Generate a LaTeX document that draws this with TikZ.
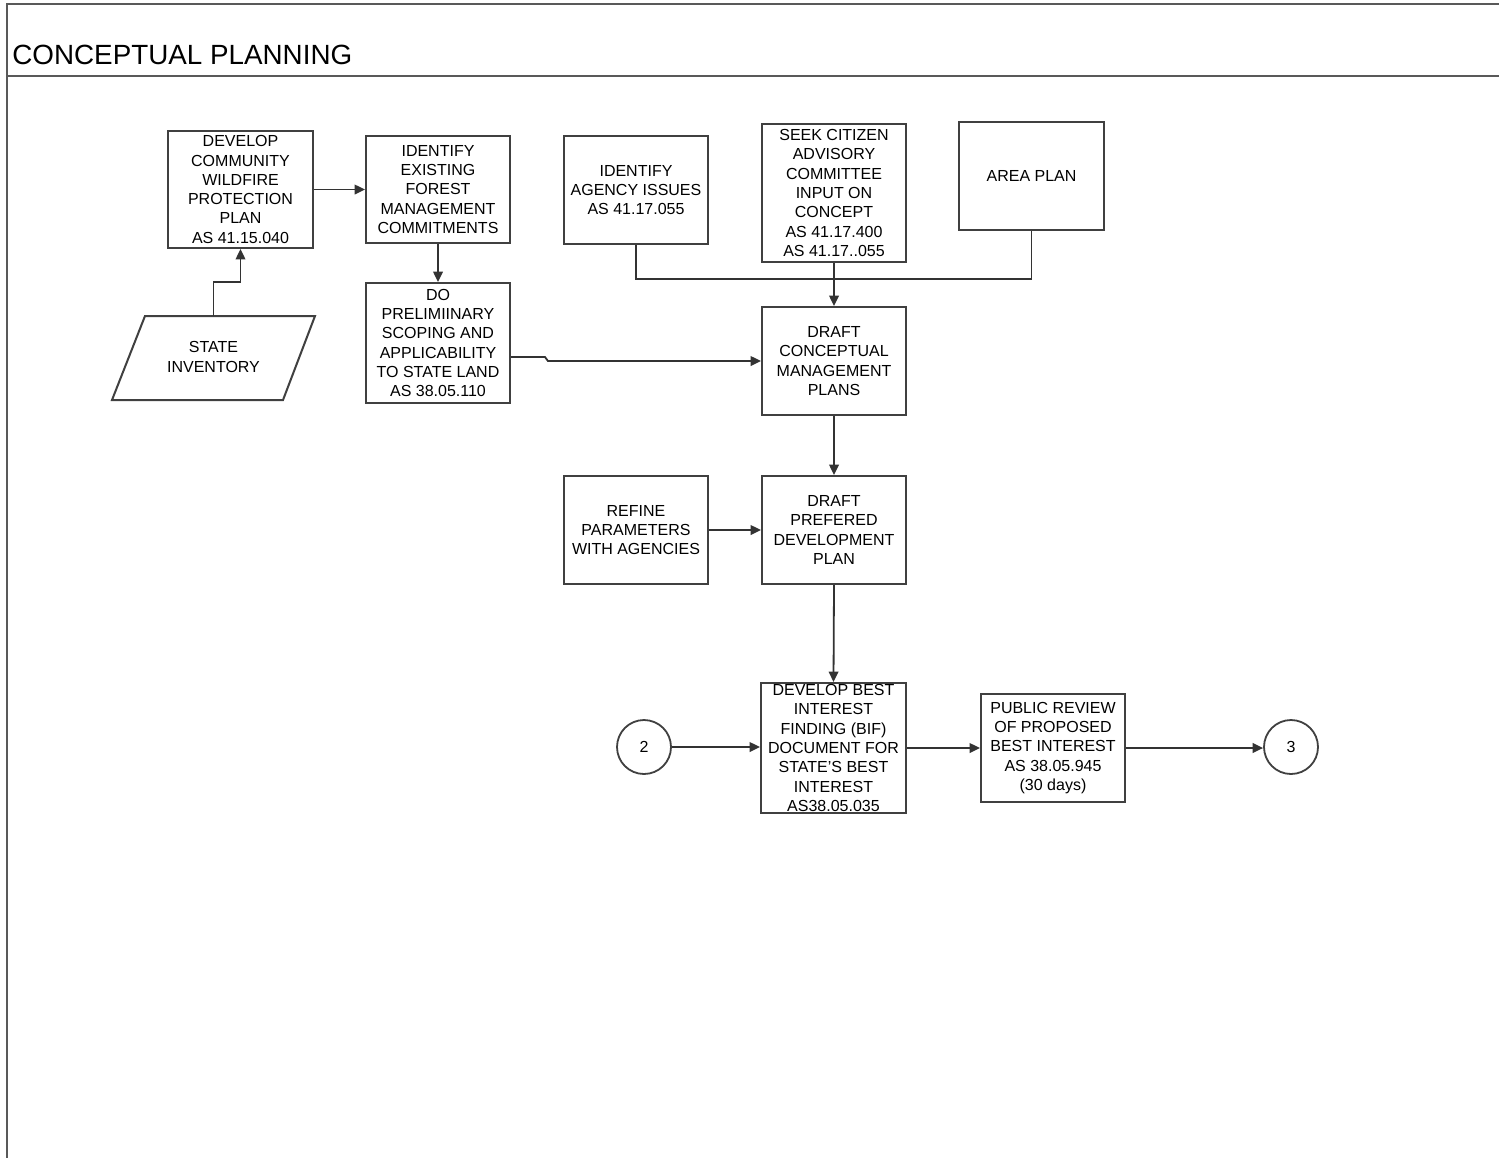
\documentclass[tikz,border=0pt]{standalone}
\usepackage{fontspec}
\setmainfont{Liberation Sans}
\usetikzlibrary{arrows.meta}
\begin{document}
\begin{tikzpicture}[x=0.5pt,y=-0.5pt,
  frameline/.style={draw=black!65, line width=1.2pt},
  box/.style={draw=black!75, line width=1pt, fill=white, minimum width=72pt,
    minimum height=54pt, inner sep=0pt, align=center,
    font=\fontsize{8}{9.65}\selectfont},
  conn/.style={draw=black!80, line width=0.9pt},
  flow/.style={conn, -{Triangle[length=5.2pt,width=4.8pt]}},
  offpage/.style={draw=black!75, line width=0.9pt, circle, minimum size=27pt,
    inner sep=0pt, font=\fontsize{8}{9.65}\selectfont}
]
\useasboundingbox (0,0) rectangle (1499,1158);
\fill[white] (0,0) rectangle (1499,1158);

% page frame and title bar
\draw[frameline] (1499,4) -- (7,4) -- (7,1158);
\draw[frameline] (7,76) -- (1499,76);
\node[anchor=base west, inner sep=0pt, font=\fontsize{13.9}{16}\selectfont] (title)
  at (12,64) {CONCEPTUAL PLANNING};

% process boxes
\node[box, minimum width=72.5pt, minimum height=58.5pt] (cwpp) at (240.5,189.5)
  {DEVELOP\\COMMUNITY\\WILDFIRE\\PROTECTION\\PLAN\\AS 41.15.040};
\node[box, minimum height=53.5pt] (forest) at (438,189.5)
  {IDENTIFY\\EXISTING\\FOREST\\MANAGEMENT\\COMMITMENTS};
\node[box, minimum height=60pt] (prelim) at (438,343)
  {DO\\PRELIMIINARY\\SCOPING AND\\APPLICABILITY\\TO STATE LAND\\AS 38.05.110};
\node[box] (agency) at (636,190)
  {IDENTIFY\\AGENCY ISSUES\\AS 41.17.055};
\node[box, minimum height=69pt] (citizen) at (834,193)
  {SEEK CITIZEN\\ADVISORY\\COMMITTEE\\INPUT ON\\CONCEPT\\AS 41.17.400\\AS 41.17..055};
\node[box, minimum width=72.5pt] (area) at (1031.5,176) {AREA PLAN};
\node[box] (draftcon) at (834,361)
  {DRAFT\\CONCEPTUAL\\MANAGEMENT\\PLANS};
\node[box] (refine) at (636,530)
  {REFINE\\PARAMETERS\\WITH AGENCIES};
\node[box] (draftpref) at (834,530)
  {DRAFT\\PREFERED\\DEVELOPMENT\\PLAN};
\node[box, minimum width=72.5pt, minimum height=65pt] (bif) at (833.5,748)
  {DEVELOP BEST\\INTEREST\\FINDING (BIF)\\DOCUMENT FOR\\STATE'S BEST\\INTEREST\\AS38.05.035};
\node[box] (review) at (1053,748)
  {PUBLIC REVIEW\\OF PROPOSED\\BEST INTEREST\\AS 38.05.945\\(30 days)};

% data input (parallelogram)
\draw[draw=black!75, line width=1pt, fill=white]
  (145,316) -- (315,316) -- (283,400) -- (112,400) -- cycle;
\node[align=center, inner sep=0pt, font=\fontsize{8}{9.65}\selectfont] (inventory)
  at (213.5,357) {STATE\\INVENTORY};
\coordinate (invtop) at (213.5,316);

% off-page connectors
\node[offpage] (p2) at (644,747) {2};
\node[offpage] (p3) at (1291,747) {3};

% connectors
\draw[flow] (cwpp.east) -- (forest.west);
\draw[flow] (invtop) -- ++(0,-34) -| (cwpp.south);
\draw[flow] (forest.south) -- (prelim.north);
\draw[flow] ([yshift=-7pt]prelim.east) -- (545,357) -- (548,361) -- (draftcon.west);
\draw[conn] (agency.south) -- ++(0,34) -| (area.south);
\draw[flow] (citizen.south) -- (draftcon.north);
\draw[flow] (draftcon.south) -- (draftpref.north);
\draw[flow] (refine.east) -- (draftpref.west);
\draw[flow] (draftpref.south) -- (bif.north);
\draw[flow] (p2.east) -- (p2.east -| bif.west);
\draw[flow] (bif.east |- review.west) -- (review.west);
\draw[flow] (review.east) -- (review.east -| p3.west);
\end{tikzpicture}
\end{document}
